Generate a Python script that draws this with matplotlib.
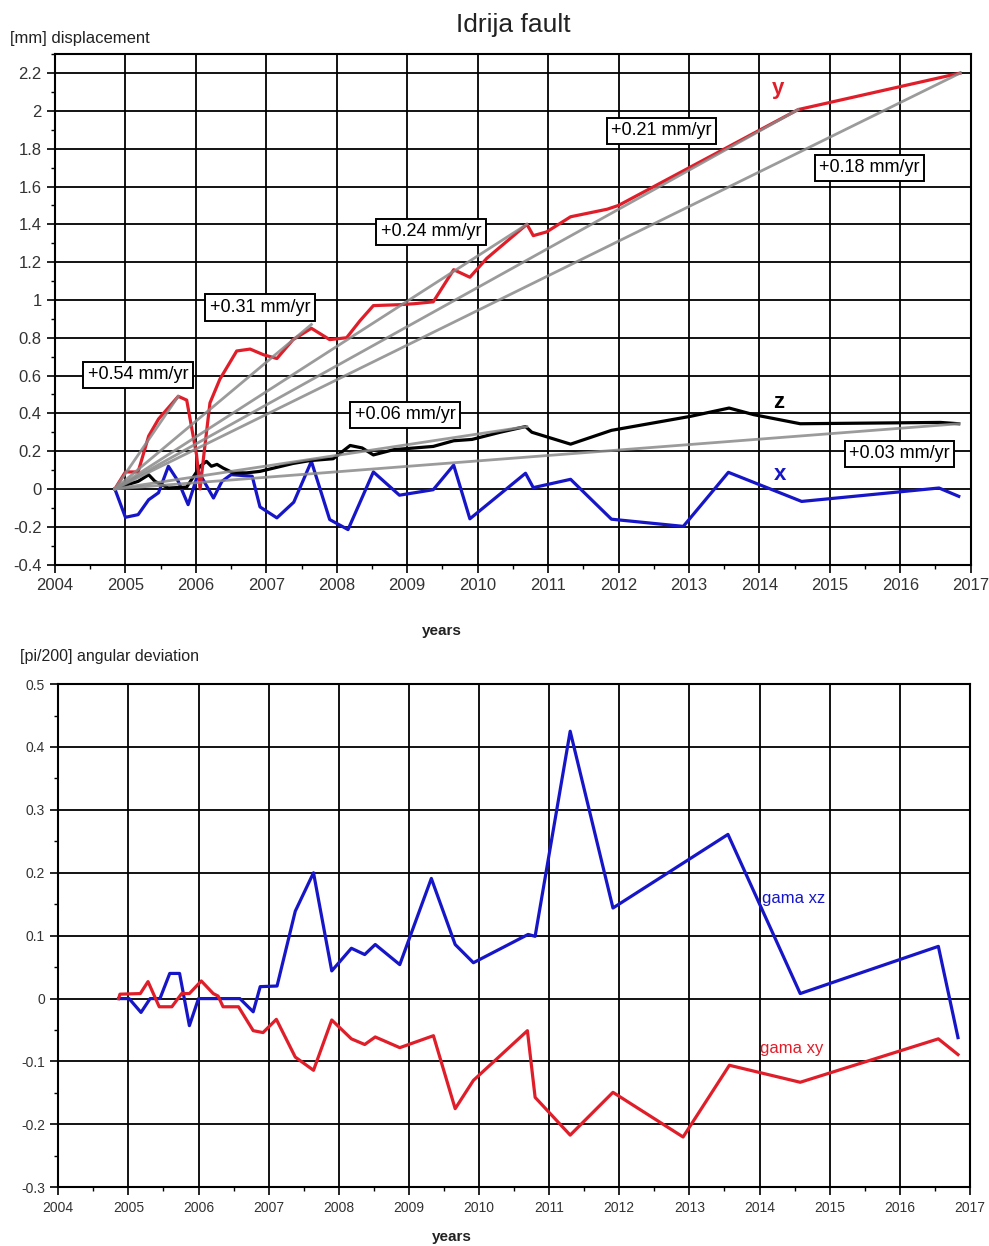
import matplotlib
matplotlib.use("Agg")
import matplotlib.pyplot as plt
from matplotlib.ticker import MultipleLocator, FuncFormatter

plt.rcParams['font.family'] = ['Liberation Sans', 'DejaVu Sans']

# ---------------- data: displacement (top) ----------------
t_y = [2004.85, 2005.00, 2005.18, 2005.33, 2005.47, 2005.61, 2005.75, 2005.87, 2006.01,
       2006.06, 2006.11, 2006.20, 2006.34, 2006.58, 2006.77, 2006.96, 2007.15, 2007.38,
       2007.64, 2007.90, 2008.14, 2008.33, 2008.52, 2008.90, 2009.10, 2009.37, 2009.66,
       2009.89, 2010.13, 2010.70, 2010.79, 2010.98, 2011.32, 2011.84, 2012.00, 2014.55,
       2016.85]
disp_y = [0.0, 0.09, 0.09, 0.28, 0.37, 0.43, 0.49, 0.47, 0.18,
          0.0, 0.17, 0.455, 0.58, 0.73, 0.74, 0.71, 0.69, 0.79,
          0.85, 0.79, 0.80, 0.89, 0.97, 0.975, 0.98, 0.99, 1.16,
          1.12, 1.22, 1.40, 1.34, 1.36, 1.44, 1.48, 1.50, 2.007,
          2.20]

t_z = [2004.85, 2005.00, 2005.18, 2005.33, 2005.42, 2005.61, 2005.87, 2006.01, 2006.06,
       2006.15, 2006.22, 2006.30, 2006.39, 2006.53, 2006.72, 2006.91, 2007.10, 2007.38,
       2007.62, 2007.95, 2008.19, 2008.36, 2008.52, 2008.81, 2009.37, 2009.66, 2009.92,
       2010.32, 2010.68, 2010.77, 2011.32, 2011.90, 2013.02, 2013.57, 2013.92, 2014.58,
       2016.57, 2016.83]
disp_z = [0.0, 0.02, 0.04, 0.075, 0.04, 0.005, 0.01, 0.09, 0.12,
          0.146, 0.12, 0.13, 0.11, 0.085, 0.085, 0.093, 0.11, 0.135,
          0.15, 0.16, 0.23, 0.217, 0.18, 0.208, 0.225, 0.255, 0.262,
          0.30, 0.33, 0.30, 0.237, 0.31, 0.384, 0.428, 0.393, 0.345,
          0.352, 0.345]

t_x = [2004.85, 2005.00, 2005.18, 2005.33, 2005.47, 2005.61, 2005.75, 2005.89, 2006.04,
       2006.25, 2006.37, 2006.50, 2006.80, 2006.91, 2007.15, 2007.39, 2007.64, 2007.90,
       2008.16, 2008.52, 2008.89, 2009.37, 2009.66, 2009.89, 2010.68, 2010.79, 2011.32,
       2011.90, 2012.92, 2013.56, 2014.60, 2016.55, 2016.83]
disp_x = [0.0, -0.15, -0.136, -0.057, -0.02, 0.12, 0.04, -0.083, 0.09,
          -0.048, 0.04, 0.076, 0.067, -0.095, -0.153, -0.07, 0.146, -0.162,
          -0.215, 0.09, -0.033, -0.004, 0.126, -0.158, 0.083, 0.007, 0.051,
          -0.16, -0.198, 0.088, -0.066, 0.005, -0.039]

# trend lines: all start at the first epoch
trend_start = (2004.85, 0.0)
trend_end_t = [2005.75, 2007.64, 2010.70, 2014.55, 2016.85, 2010.70, 2016.83]
trend_end_v = [0.49, 0.87, 1.40, 2.007, 2.20, 0.33, 0.345]

rate_labels = ["+0.54 mm/yr", "+0.31 mm/yr", "+0.24 mm/yr", "+0.21 mm/yr",
               "+0.18 mm/yr", "+0.06 mm/yr", "+0.03 mm/yr"]
rate_label_t = [2005.18, 2006.91, 2009.34, 2012.61, 2015.56, 2008.97, 2015.99]
rate_label_v = [0.605, 0.96, 1.361, 1.896, 1.70, 0.393, 0.187]

# ---------------- data: angular deviation (bottom) ----------------
t_xz = [2004.86, 2005.01, 2005.18, 2005.31, 2005.45, 2005.59, 2005.73, 2005.87, 2006.00,
        2006.59, 2006.78, 2006.88, 2007.12, 2007.38, 2007.64, 2007.90, 2008.18, 2008.37,
        2008.52, 2008.87, 2009.32, 2009.66, 2009.92, 2010.70, 2010.80, 2011.30, 2011.91,
        2013.55, 2014.58, 2016.55, 2016.83]
gama_xz = [0.0, 0.0, -0.022, 0.0, 0.0, 0.04, 0.04, -0.043, 0.0,
           0.0, -0.021, 0.019, 0.02, 0.139, 0.20, 0.044, 0.08, 0.07,
           0.086, 0.054, 0.191, 0.086, 0.057, 0.102, 0.099, 0.425, 0.144,
           0.261, 0.008, 0.083, -0.062]

t_xy = [2004.86, 2004.88, 2005.17, 2005.28, 2005.44, 2005.62, 2005.76, 2005.87, 2006.04,
        2006.21, 2006.28, 2006.35, 2006.57, 2006.78, 2006.92, 2007.11, 2007.38, 2007.64,
        2007.90, 2008.18, 2008.37, 2008.52, 2008.87, 2009.35, 2009.66, 2009.92, 2010.69,
        2010.80, 2011.30, 2011.91, 2012.91, 2013.57, 2014.58, 2016.55, 2016.83]
gama_xy = [0.0, 0.007, 0.008, 0.027, -0.013, -0.013, 0.008, 0.008, 0.028,
           0.008, 0.004, -0.013, -0.013, -0.051, -0.054, -0.033, -0.093, -0.114,
           -0.034, -0.064, -0.073, -0.061, -0.078, -0.059, -0.175, -0.13, -0.051,
           -0.157, -0.217, -0.149, -0.22, -0.106, -0.133, -0.064, -0.089]

RED = '#e01e2a'
BLUE = '#1616c8'
GREY = '#8a8a8a'

fig = plt.figure(figsize=(9.89, 12.46), dpi=100)

def fmt(v, pos):
    s = '%g' % round(v, 3)
    return s

def style_axes(ax, ymajor, yminor, labsize):
    ax.set_xlim(2004, 2017)
    ax.xaxis.set_major_locator(MultipleLocator(1))
    ax.xaxis.set_minor_locator(MultipleLocator(0.5))
    ax.yaxis.set_major_locator(MultipleLocator(ymajor))
    ax.yaxis.set_minor_locator(MultipleLocator(yminor))
    ax.yaxis.set_major_formatter(FuncFormatter(fmt))
    ax.xaxis.set_major_formatter(FuncFormatter(lambda v, p: '%d' % round(v)))
    ax.grid(True, which='major', color='black', lw=1.3)
    ax.set_axisbelow(True)
    ax.tick_params(which='major', direction='out', length=6, width=1.2,
                   labelsize=labsize, labelcolor='#333333')
    ax.tick_params(which='minor', direction='out', length=3, width=1.0)
    for s in ax.spines.values():
        s.set_linewidth(1.5)
        s.set_color('black')

# ---------------- top panel ----------------
ax1 = fig.add_axes([0.0556, 0.5469, 0.9259, 0.4096])
style_axes(ax1, 0.2, 0.1, 12)
ax1.set_ylim(-0.4, 2.3)

ax1.plot(t_x, disp_x, color=BLUE, lw=2.3, zorder=3)
ax1.plot(t_z, disp_z, color='black', lw=2.3, zorder=3)
ax1.plot(t_y, disp_y, color=RED, lw=2.3, zorder=3)
for te, ve in zip(trend_end_t, trend_end_v):
    ax1.plot([trend_start[0], te], [trend_start[1], ve], color=GREY, lw=2.0,
             alpha=0.85, zorder=4)

for lab, lt, lv in zip(rate_labels, rate_label_t, rate_label_v):
    ax1.text(lt, lv, lab, ha='center', va='center', fontsize=13, zorder=6,
             bbox=dict(boxstyle='square,pad=0.25', fc='white', ec='black', lw=1.4))

ax1.text(2014.27, 2.12, 'y', color=RED, fontsize=16, fontweight='bold',
         ha='center', va='center', zorder=5)
ax1.text(2014.27, 0.46, 'z', color='black', fontsize=16, fontweight='bold',
         ha='center', va='center', zorder=5)
ax1.text(2014.30, 0.076, 'x', color=BLUE, fontsize=16, fontweight='bold',
         ha='center', va='center', zorder=5)

fig.text(513 / 989, 1 - 25 / 1246, 'Idrija fault', ha='center', va='center',
         fontsize=19, color='#222222')
fig.text(10 / 989, 1 - 39 / 1246, '[mm] displacement', ha='left', va='center',
         fontsize=12, color='#222222')
fig.text(442 / 989, 1 - 631 / 1246, 'years', ha='center', va='center',
         fontsize=11, fontweight='bold', color='#222222')

# ---------------- bottom panel ----------------
ax2 = fig.add_axes([0.0589, 0.0471, 0.9218, 0.4039])
style_axes(ax2, 0.1, 0.05, 10)
ax2.set_ylim(-0.3, 0.5)

ax2.plot(t_xz, gama_xz, color=BLUE, lw=2.3, zorder=3)
ax2.plot(t_xy, gama_xy, color=RED, lw=2.3, zorder=3)

ax2.text(2014.03, 0.159, 'gama xz', color=BLUE, fontsize=12, ha='left', va='center')
ax2.text(2014.00, -0.08, 'gama xy', color=RED, fontsize=12, ha='left', va='center')

fig.text(20 / 989, 1 - 656 / 1246, '[pi/200] angular deviation', ha='left',
         va='center', fontsize=11.5, color='#222222')
fig.text(452 / 989, 1 - 1237 / 1246, 'years', ha='center', va='center',
         fontsize=11, fontweight='bold', color='#222222')

fig.savefig('out.png', dpi=100)
